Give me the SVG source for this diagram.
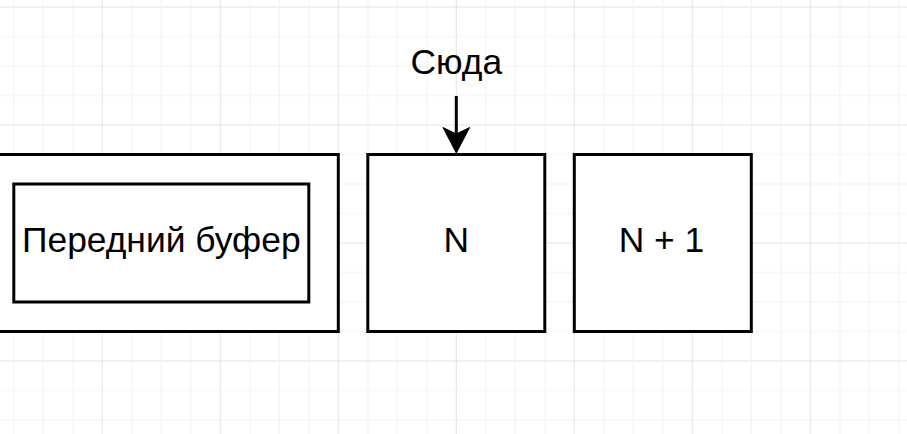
<svg xmlns="http://www.w3.org/2000/svg" width="907" height="434" viewBox="0 0 907 434">
  <defs>
    <pattern id="grid" patternUnits="userSpaceOnUse" x="-16.2" y="6.5" width="118" height="118">
      <rect x="0" y="0" width="1" height="118" fill="#e2e2e2"/>
      <rect x="0" y="0" width="118" height="1" fill="#e2e2e2"/>
      <rect x="29.5" y="0" width="1" height="118" fill="#f1f1f1"/>
      <rect x="59" y="0" width="1" height="118" fill="#f1f1f1"/>
      <rect x="88.5" y="0" width="1" height="118" fill="#f1f1f1"/>
      <rect x="0" y="29.5" width="118" height="1" fill="#f1f1f1"/>
      <rect x="0" y="59" width="118" height="1" fill="#f1f1f1"/>
      <rect x="0" y="88.5" width="118" height="1" fill="#f1f1f1"/>
    </pattern>
  </defs>
  <style>
    .box { fill: #ffffff; stroke: #000000; stroke-width: 3; }
    .lbl { font-family: "Liberation Sans", Arial, sans-serif; fill: #000000; text-anchor: middle; font-size: 35.4px; }
    .edge { stroke: #000000; stroke-width: 3; fill: none; }
    .head { fill: #000000; stroke: #000000; stroke-width: 1; }
  </style>
  <rect x="0" y="0" width="907" height="434" fill="#ffffff"/>
  <rect x="0" y="0" width="907" height="434" fill="url(#grid)"/>

  <g id="outer-buffer">
    <rect class="box" x="-15.7" y="154.5" width="354" height="177"/>
  </g>
  <g id="front-buffer">
    <rect class="box" x="13.8" y="184" width="295" height="118"/>
    <text class="lbl" x="161.3" y="251.7">Передний буфер</text>
  </g>
  <g id="node-n">
    <rect class="box" x="367.8" y="154.5" width="177" height="177"/>
    <text class="lbl" x="456.3" y="251.7">N</text>
  </g>
  <g id="node-n1">
    <rect class="box" x="574.3" y="154.5" width="177" height="177"/>
    <text class="lbl" x="661.5" y="251.7">N + 1</text>
  </g>
  <g id="label-here">
    <text class="lbl" x="456.3" y="74.3">Сюда</text>
  </g>
  <g id="connectors">
    <line class="edge" x1="456.3" y1="96" x2="456.3" y2="136"/>
    <path class="head" d="M456.3,153 L443,127.5 L456.3,134 L469.6,127.5 Z"/>
  </g>
</svg>
